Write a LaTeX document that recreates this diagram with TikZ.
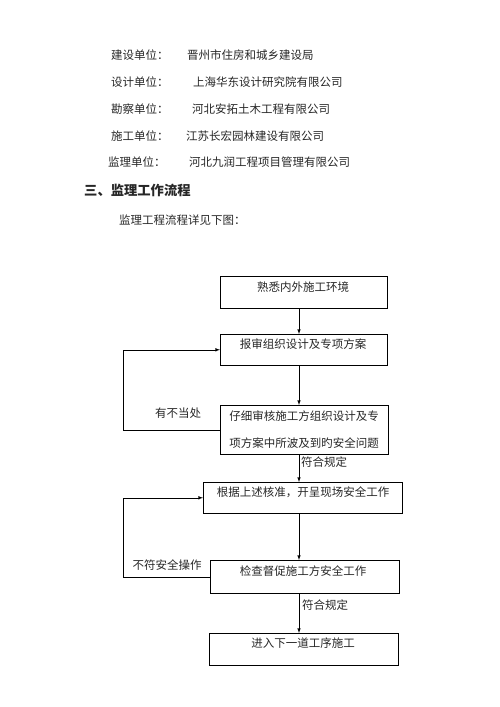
\documentclass[tikz,border=0pt]{standalone}
\usepackage{fontspec}
\setmainfont{Noto Sans CJK SC}
\usetikzlibrary{positioning}
\tikzset{
  stage/.style={draw, line width=0.6pt, anchor=north west, inner sep=0pt},
  tag/.style={font=\fontsize{11.5}{14}\selectfont, inner sep=0pt, text=black!85},
  flow/.style={-latex, line width=0.6pt},
}
\begin{document}
\begin{tikzpicture}[x=1pt, y=-1pt]
        \useasboundingbox (0,0) rectangle (500,707);
        \node[tag, anchor=west] (unit1) at (111,55) {建设单位：};
        \node[tag, anchor=west] (corp1) at (187,55) {晋州市住房和城乡建设局};
        \node[tag, anchor=west] (unit2) at (111,82) {设计单位：};
        \node[tag, anchor=west] (corp2) at (193,82) {上海华东设计研究院有限公司};
        \node[tag, anchor=west] (unit3) at (111,109) {勘察单位：};
        \node[tag, anchor=west] (corp3) at (192,109) {河北安拓土木工程有限公司};
        \node[tag, anchor=west] (unit4) at (111,136) {施工单位：};
        \node[tag, anchor=west] (corp4) at (186,136) {江苏长宏园林建设有限公司};
        \node[tag, anchor=west] (unit5) at (108,162) {监理单位：};
        \node[tag, anchor=west] (corp5) at (189,162) {河北九润工程项目管理有限公司};
        \node[tag, anchor=west, font=\fontsize{13.3}{16}\bfseries] (title) at (84,190) {三、监理工作流程};
        \node[tag, anchor=west] (intro) at (119,220) {监理工程流程详见下图：};

        \coordinate (axis) at (299,0);
        \coordinate (loopx) at (123,0);

        \node[stage, minimum width=167pt, minimum height=32pt] (env) at (220,276) {};
        \node[tag] (envtxt) at (303,287) {熟悉内外施工环境};
        \node[stage, minimum width=167pt, minimum height=31pt] (plan) at (220,334) {};
        \node[tag] (plantxt) at (303,344) {报审组织设计及专项方案};
        \node[stage, minimum width=168pt, minimum height=49pt] (audit) at (220,405) {};
        \node[tag, align=center] (audittxt) at (304,429.5) {仔细审核施工方组织设计及专\\[13pt]项方案中所波及到旳安全问题};
        \node[stage, minimum width=199pt, minimum height=31pt] (site) at (203,482) {};
        \node[tag] (sitetxt) at (303,492) {根据上述核准，开呈现场安全工作};
        \node[stage, minimum width=189pt, minimum height=33pt] (check) at (210,560) {};
        \node[tag] (checktxt) at (303,571) {检查督促施工方安全工作};
        \node[stage, minimum width=189pt, minimum height=32pt] (next) at (209,633) {};
        \node[tag] (nexttxt) at (303,643) {进入下一道工序施工};

        \draw[flow] (env.south -| axis) -- (plan.north -| axis);
        \draw[flow] (plan.south -| axis) -- (audit.north -| axis);
        \draw[flow] (audit.south -| axis) -- (site.north -| axis);
        \draw[flow] (site.south -| axis) -- (check.north -| axis);
        \draw[flow] (check.south -| axis) -- (next.north -| axis);
        \draw[flow] (audit.west) -- (audit.west -| loopx) |- (plan.west);
        \draw[flow] (check.west) -- (check.west -| loopx) |- (site.west);

        \node[tag] (wrong) at (178,413) {有不当处};
        \node[tag] (unsafe) at (167,565) {不符安全操作};
        \node[tag, anchor=west] (ok1) at (301,462) {符合规定};
        \node[tag, anchor=west] (ok2) at (302,605) {符合规定};
    \end{tikzpicture}
\end{document}
